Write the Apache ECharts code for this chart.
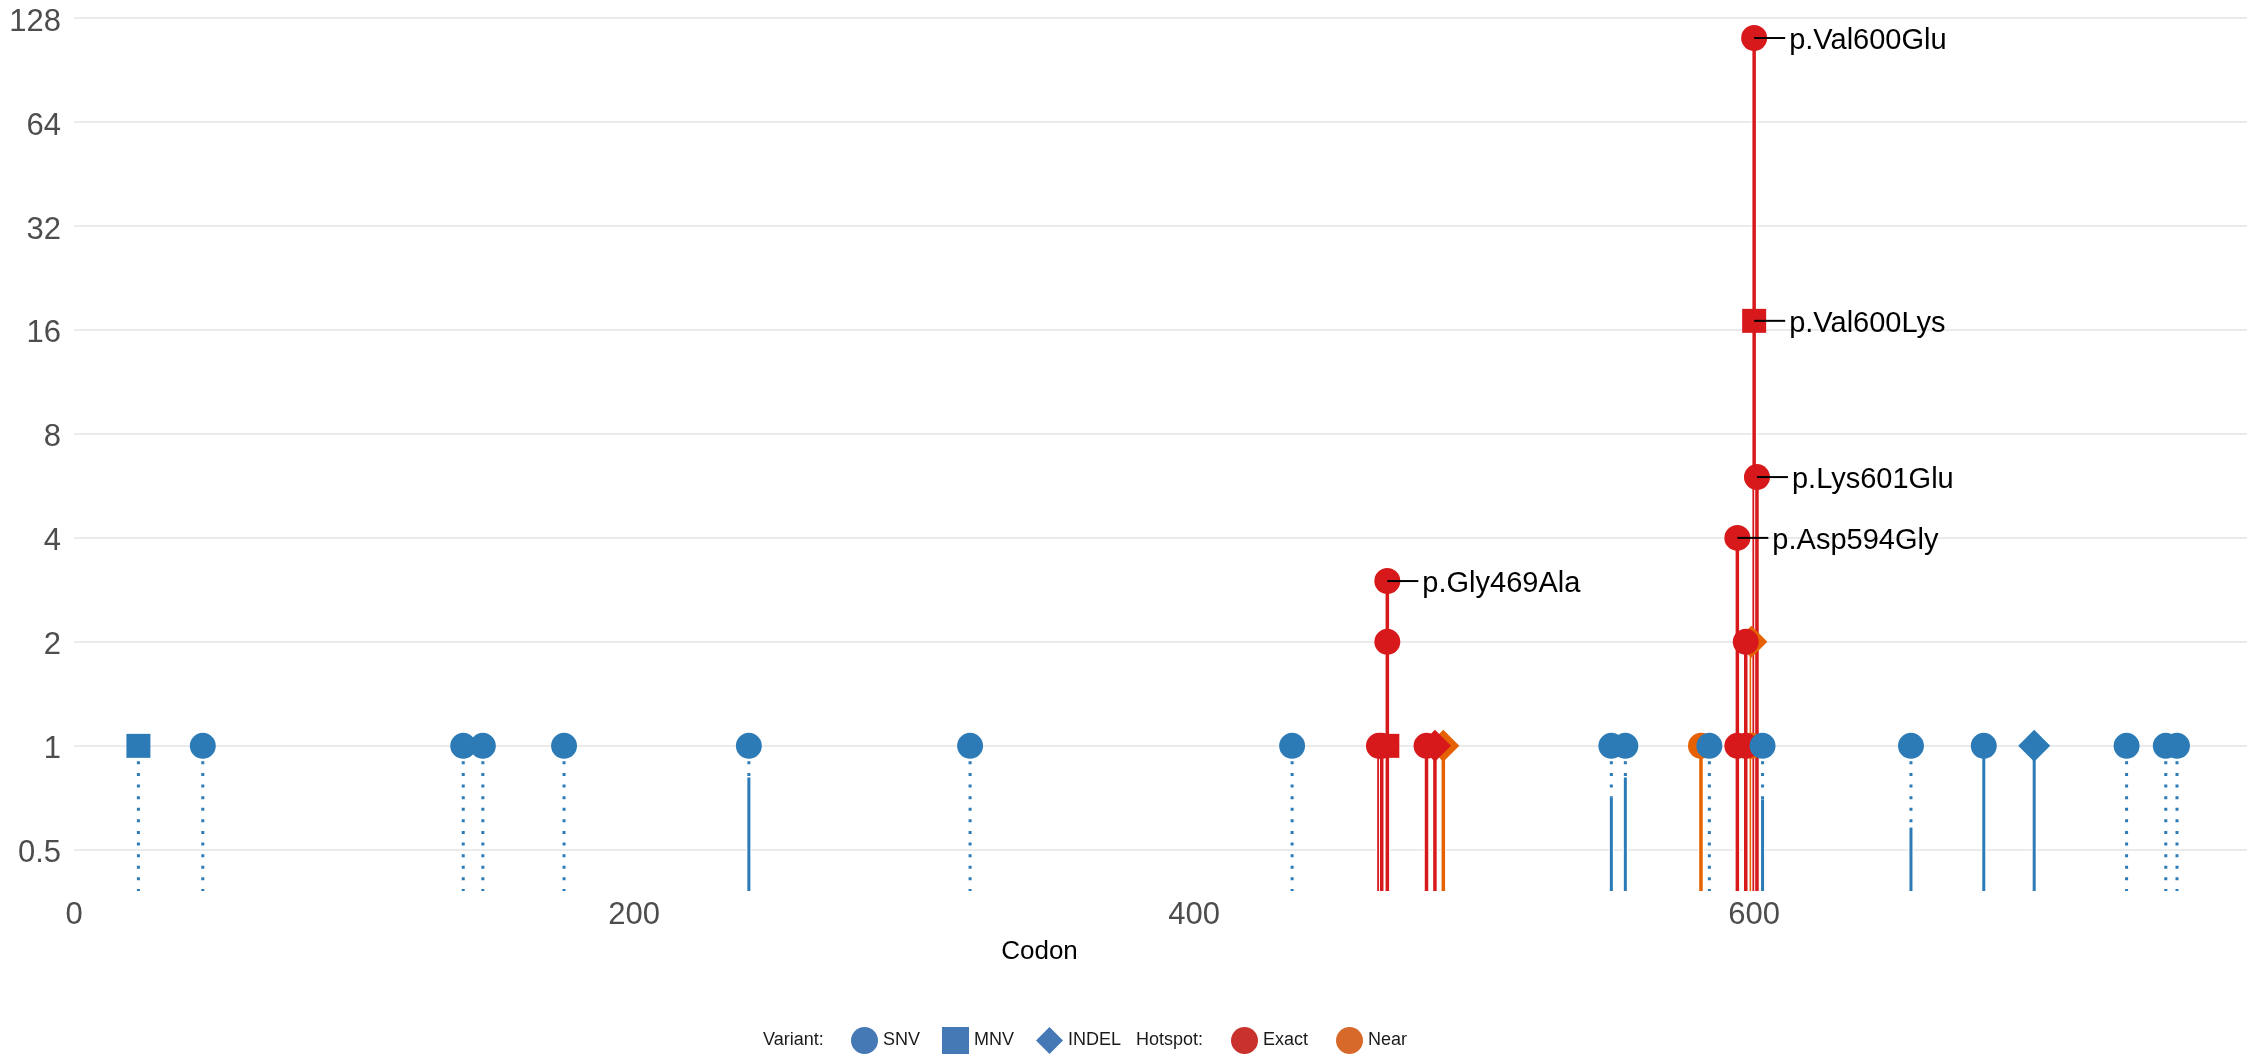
<!DOCTYPE html>
<html>
<head>
<meta charset="utf-8">
<script src="https://cdn.jsdelivr.net/npm/echarts@6/dist/echarts.min.js"></script>
<style>
html,body{margin:0;padding:0;background:#ffffff;}
#chart{width:2247px;height:1060px;}
</style>
</head>
<body>
<div id="chart"></div>
<script>
// ---- data ----
const codons       = [23, 46, 139, 146, 175, 241, 320, 435, 466, 467, 469, 469, 469, 483, 486, 489, 549, 554, 581, 584, 594, 594, 597, 597, 599, 599, 600, 600, 601, 603, 656, 682, 700, 733, 747, 751];
const counts       = [1, 1, 1, 1, 1, 1, 1, 1, 1, 1, 1, 2, 3, 1, 1, 1, 1, 1, 1, 1, 1, 4, 1, 2, 1, 2, 17, 112, 6, 1, 1, 1, 1, 1, 1, 1];
const variantTypes = ['MNV','SNV','SNV','SNV','SNV','SNV','SNV','SNV','SNV','SNV','MNV','SNV','SNV','SNV','INDEL','INDEL','SNV','SNV','SNV','SNV','SNV','SNV','SNV','SNV','SNV','INDEL','MNV','SNV','SNV','SNV','SNV','SNV','INDEL','SNV','SNV','SNV'];
const hotspots     = ['','','','','','','','','Exact','Exact','Exact','Exact','Exact','Exact','Exact','Near','','','Near','','Exact','Exact','Exact','Exact','Near','Near','Exact','Exact','Exact','','','','','','',''];
const solidTops    = [0, 0, 0, 0, 0, 0.81, 0, 0, 1, 1, 1, 2, 3, 1, 1, 1, 0.71, 0.81, 1, 0, 1, 4, 1, 2, 1, 2, 17, 112, 6, 0.70, 0.58, 1, 1, 0, 0, 0];
const proteinChanges = ['','','','','','','','','','','','','p.Gly469Ala','','','','','','','','','p.Asp594Gly','','','','','p.Val600Lys','p.Val600Glu','p.Lys601Glu','','','','','','',''];
const xTicks = [0, 200, 400, 600];
const yTicks = [0.5, 1, 2, 4, 8, 16, 32, 64, 128];

// ---- styling ----
const BLUE = '#2C7BB6', RED = '#D7191C', ORANGE = '#E66101';
const LEG_BLUE = '#4479B5', LEG_RED = '#C8312C', LEG_ORANGE = '#D7692A';
const FONT = '"Liberation Sans", Arial, Helvetica, sans-serif';
const Y_MIN = 0.38, Y_MAX = 128, X_MIN = 0, X_MAX = 776;
const SYMBOL = {SNV: 'circle', MNV: 'rect', INDEL: 'diamond'};
const SIZE = {SNV: 26, MNV: 24, INDEL: 32};
const hotColor = h => h === 'Exact' ? RED : (h === 'Near' ? ORANGE : BLUE);

function points(test) {
  const out = [];
  codons.forEach((c, i) => {
    if (test(i)) out.push({value: [c, counts[i]], symbol: SYMBOL[variantTypes[i]], symbolSize: SIZE[variantTypes[i]]});
  });
  return out;
}

const stemData = codons.map((c, i) => [c, counts[i], solidTops[i], i]);
const labelIdx = [];
proteinChanges.forEach((t, i) => { if (t) labelIdx.push(i); });
const labelData = labelIdx.map(i => [codons[i], counts[i], i]);

const chart = echarts.init(document.getElementById('chart'), null, {renderer: 'canvas'});
chart.setOption({
  animation: false,
  backgroundColor: '#ffffff',
  grid: {left: 74, right: 0, top: 18, bottom: 169, containLabel: false, outerBoundsMode: 'none'},
  xAxis: {
    type: 'value', min: X_MIN, max: X_MAX, interval: 200,
    axisLine: {show: false}, axisTick: {show: false}, splitLine: {show: false},
    axisLabel: {fontSize: 31, color: '#4D4D4D', fontFamily: FONT, margin: 9, showMaxLabel: false,
      formatter: v => xTicks.indexOf(v) >= 0 ? String(v) : ''},
    name: 'Codon', nameLocation: 'middle', nameGap: 48,
    nameTextStyle: {fontSize: 26, color: '#000000', fontFamily: FONT, padding: [0, 242, 0, 0]}
  },
  yAxis: {
    type: 'log', logBase: 2, min: Y_MIN, max: Y_MAX,
    axisLine: {show: false}, axisTick: {show: false},
    axisLabel: {fontSize: 31, color: '#4D4D4D', fontFamily: FONT, margin: 13, showMinLabel: false,
      rich: {t: {fontSize: 31, color: '#4D4D4D', fontFamily: FONT, padding: [8, 0, 0, 0]}},
      formatter: v => {
        const r = v < 1 ? Math.round(v * 100) / 100 : Math.round(v);
        return yTicks.indexOf(r) >= 0 ? '{t|' + r + '}' : '';
      }},
    splitLine: {show: true, showMinLine: false, lineStyle: {color: '#EBEBEB', width: 2}}
  },
  legend: [
    {left: 846, top: 1022, itemWidth: 27, itemHeight: 27, itemGap: 22, selectedMode: false,
     textStyle: {fontSize: 18, color: '#1A1A1A', fontFamily: FONT},
     data: [
       {name: 'SNV', icon: 'circle', itemStyle: {color: LEG_BLUE}},
       {name: 'MNV', icon: 'rect', itemStyle: {color: LEG_BLUE}},
       {name: 'INDEL', icon: 'diamond', itemStyle: {color: LEG_BLUE}}
     ]},
    {left: 1226, top: 1022, itemWidth: 27, itemHeight: 27, itemGap: 28, selectedMode: false,
     textStyle: {fontSize: 18, color: '#1A1A1A', fontFamily: FONT},
     data: [
       {name: 'Exact', icon: 'circle', itemStyle: {color: LEG_RED}},
       {name: 'Near', icon: 'circle', itemStyle: {color: LEG_ORANGE}}
     ]}
  ],
  graphic: [
    {type: 'text', left: 763, top: 1031, style: {text: 'Variant:', fontSize: 18, fill: '#1A1A1A', fontFamily: FONT}},
    {type: 'text', left: 1136, top: 1031, style: {text: 'Hotspot:', fontSize: 18, fill: '#1A1A1A', fontFamily: FONT}}
  ],
  series: [
    {
      name: 'stems', type: 'custom', silent: true, z: 1,
      encode: {x: 0, y: 1},
      data: stemData,
      renderItem: (params, api) => {
        const x = api.value(0), c = api.value(1), s = api.value(2), i = api.value(3);
        const color = hotColor(hotspots[i]);
        const w = hotspots[i] ? 3.5 : 3;
        const top = api.coord([x, c]);
        const bot = api.coord([x, Y_MIN]);
        const children = [];
        if (!hotspots[i]) {
          children.push({type: 'line', shape: {x1: top[0], y1: top[1], x2: bot[0], y2: bot[1]},
            style: {stroke: color, lineWidth: 3, lineDash: [3, 8.6], lineDashOffset: 7.7}});
        }
        if (s > 0) {
          const st = api.coord([x, s]);
          children.push({type: 'line', shape: {x1: st[0], y1: st[1], x2: bot[0], y2: bot[1]},
            style: {stroke: '#ffffff', lineWidth: w + 2}});
          children.push({type: 'line', shape: {x1: st[0], y1: st[1], x2: bot[0], y2: bot[1]},
            style: {stroke: color, lineWidth: w}});
        }
        return {type: 'group', children};
      }
    },
    {name: 'Near', type: 'scatter', z: 3, itemStyle: {color: ORANGE, opacity: 1}, data: points(i => hotspots[i] === 'Near')},
    {name: 'Exact', type: 'scatter', z: 4, itemStyle: {color: RED, opacity: 1}, data: points(i => hotspots[i] === 'Exact')},
    {name: 'SNV', type: 'scatter', z: 5, itemStyle: {color: BLUE, opacity: 1}, data: points(i => !hotspots[i] && variantTypes[i] === 'SNV')},
    {name: 'MNV', type: 'scatter', z: 5, itemStyle: {color: BLUE, opacity: 1}, data: points(i => !hotspots[i] && variantTypes[i] === 'MNV')},
    {name: 'INDEL', type: 'scatter', z: 5, itemStyle: {color: BLUE, opacity: 1}, data: points(i => !hotspots[i] && variantTypes[i] === 'INDEL')},
    {
      name: 'labels', type: 'custom', silent: true, z: 10,
      encode: {x: 0, y: 1},
      data: labelData,
      renderItem: (params, api) => {
        const p = api.coord([api.value(0), api.value(1)]);
        const i = api.value(2);
        return {type: 'group', children: [
          {type: 'line', shape: {x1: p[0], y1: p[1], x2: p[0] + 31, y2: p[1]}, style: {stroke: '#000000', lineWidth: 2}},
          {type: 'text', x: p[0] + 35, y: p[1] + 3, style: {text: proteinChanges[i], fill: '#000000', fontSize: 29, fontFamily: FONT, verticalAlign: 'middle', align: 'left'}}
        ]};
      }
    }
  ]
});
</script>
</body>
</html>
